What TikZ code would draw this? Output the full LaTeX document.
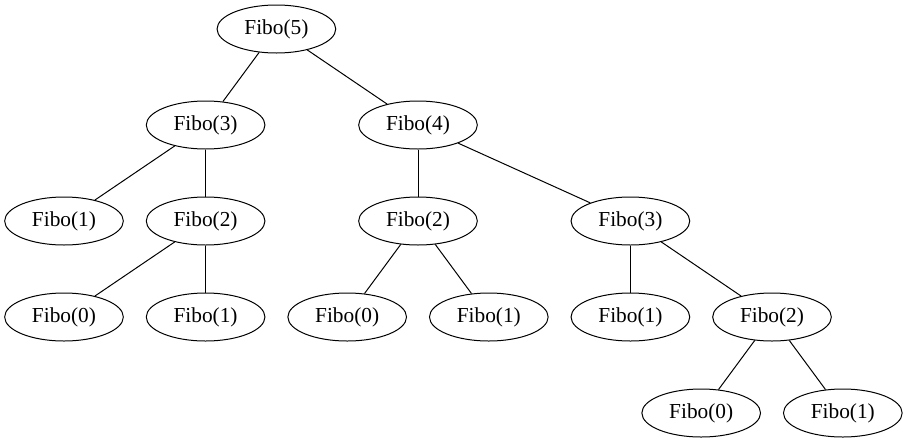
\documentclass[tikz,border=0pt]{standalone}
\usepackage{fontspec}
\setmainfont{Liberation Serif}
\usetikzlibrary{shapes.geometric}

\begin{document}
\begin{tikzpicture}[x=53.1pt, y=-72pt,
    call/.style={ellipse, draw, line width=0.75pt, minimum width=89pt,
      minimum height=36pt, inner sep=0pt, font=\fontsize{16}{19}\selectfont},
    link/.style={line width=0.75pt}]
  \useasboundingbox (-48pt,21.75pt) rectangle (631.5pt,-310.5pt);
  \node[call] (f5) at (3,0) {Fibo(5)} ;
  \node[call] (f3a) at (2,1) {Fibo(3)} ;
  \node[call] (f4) at (5,1) {Fibo(4)} ;
  \node[call] (f1a) at (0,2) {Fibo(1)} ;
  \node[call] (f2a) at (2,2) {Fibo(2)} ;
  \node[call] (f2b) at (5,2) {Fibo(2)} ;
  \node[call] (f3b) at (8,2) {Fibo(3)} ;
  \node[call] (f0a) at (0,3) {Fibo(0)} ;
  \node[call] (f1b) at (2,3) {Fibo(1)} ;
  \node[call] (f0b) at (4,3) {Fibo(0)} ;
  \node[call] (f1c) at (6,3) {Fibo(1)} ;
  \node[call] (f1d) at (8,3) {Fibo(1)} ;
  \node[call] (f2c) at (10,3) {Fibo(2)} ;
  \node[call] (f0c) at (9,4) {Fibo(0)} ;
  \node[call] (f1e) at (11,4) {Fibo(1)} ;
  \draw[link] (f5) -- (f3a) ;
  \draw[link] (f5) -- (f4) ;
  \draw[link] (f3a) -- (f1a) ;
  \draw[link] (f3a) -- (f2a) ;
  \draw[link] (f2a) -- (f0a) ;
  \draw[link] (f2a) -- (f1b) ;
  \draw[link] (f4) -- (f2b) ;
  \draw[link] (f4) -- (f3b) ;
  \draw[link] (f2b) -- (f0b) ;
  \draw[link] (f2b) -- (f1c) ;
  \draw[link] (f3b) -- (f1d) ;
  \draw[link] (f3b) -- (f2c) ;
  \draw[link] (f2c) -- (f0c) ;
  \draw[link] (f2c) -- (f1e) ;
\end{tikzpicture}
\end{document}
